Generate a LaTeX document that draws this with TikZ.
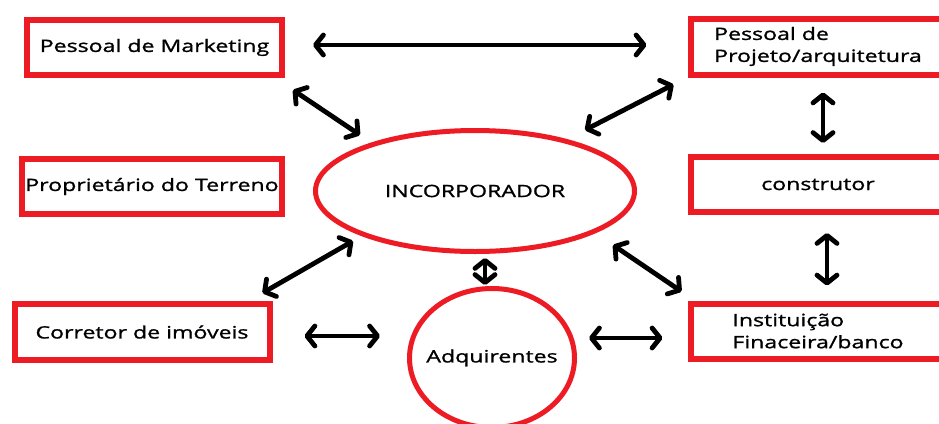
\documentclass[tikz,border=0pt]{standalone}
\usepackage{fontspec}
\setmainfont[FakeStretch=1.36,FakeBold=1.2]{Open Sans}
\usepackage{xcolor}
\usetikzlibrary{arrows.meta}
\usetikzlibrary{calc}
\usetikzlibrary{positioning}
\usetikzlibrary{shapes.geometric}
\definecolor{paintred}{HTML}{ED1C24}

\begin{document}
\begin{tikzpicture}[x=1pt,y=-1pt,node distance=140pt,
    actor/.style={rectangle,draw=paintred,line width=6pt,minimum width=255pt,minimum height=55pt,text=black,font=\fontsize{17}{22}\selectfont},
    hub/.style={ellipse,draw=paintred,line width=5pt,text=black,font=\fontsize{17}{22}\selectfont},
    link/.style={{Straight Barb[round,length=8pt,width=20pt]}-{Straight Barb[round,length=8pt,width=20pt]},line width=4.8pt,line cap=round}]

    \useasboundingbox[fill=white] (0,0) rectangle (939,423);

    \node[hub, minimum width=319pt, minimum height=121pt] (incorporador) at (475,191) {INCORPORADOR};
    \node[hub, minimum width=165pt, minimum height=139pt] (adquirentes) at (492,358) {\makebox[0pt]{Adquirentes}};

    \node[actor] (marketing) at (154.5,47.5) {Pessoal de Marketing};
    \node[actor, on grid, below=139pt of marketing, xshift=-2.5pt] (proprietario) {Proprietário do Terreno};
    \node[actor, on grid, below=145.5pt of proprietario, xshift=-10pt, minimum height=56pt] (corretor) {Corretor de imóveis};
    \node[actor, align=left, minimum height=56pt] (projeto) at (818,46.5) {Pessoal de\\Projeto/arquitetura};
    \node[actor, on grid, below=138pt of projeto] (construtor) {construtor};
    \node[actor, align=left, on grid, below=146.5pt of construtor] (instituicao) {Instituição\\Finaceira/banco};

    \draw[link] ($(marketing.east)+(28,-2.5)$) -- ($(projeto.west)+(-41,-1.5)$);
    \draw[link] ($(marketing.south east)+(8,12)$) -- ($(incorporador.center)+(-115,-56)$);
    \draw[link] ($(incorporador.center)+(110,-61)$) -- ($(projeto.south west)+(-14,7)$);
    \draw[link] ($(projeto.south)+(5,15)$) -- ($(construtor.north)+(5,-11)$);
    \draw[link] ($(construtor.south)+(9,18)$) -- ($(instituicao.north)+(9,-15)$);
    \draw[link] ($(corretor.north east)+(-10,-8)$) -- ($(incorporador.center)+(-122,50)$);
    \draw[link] ($(corretor.east)+(32,4)$) -- ($(adquirentes.center)+(-112,-22)$);
    \draw[link] ($(incorporador.south)+(10,4)$) -- ($(adquirentes.north)+(-7,-1)$);
    \draw[link] ($(incorporador.center)+(138,54)$) -- ($(instituicao.north west)+(-6,-9)$);
    \draw[link] ($(adquirentes.center)+(97,-20)$) -- ($(instituicao.west)+(-25,7)$);

\end{tikzpicture}
\end{document}
